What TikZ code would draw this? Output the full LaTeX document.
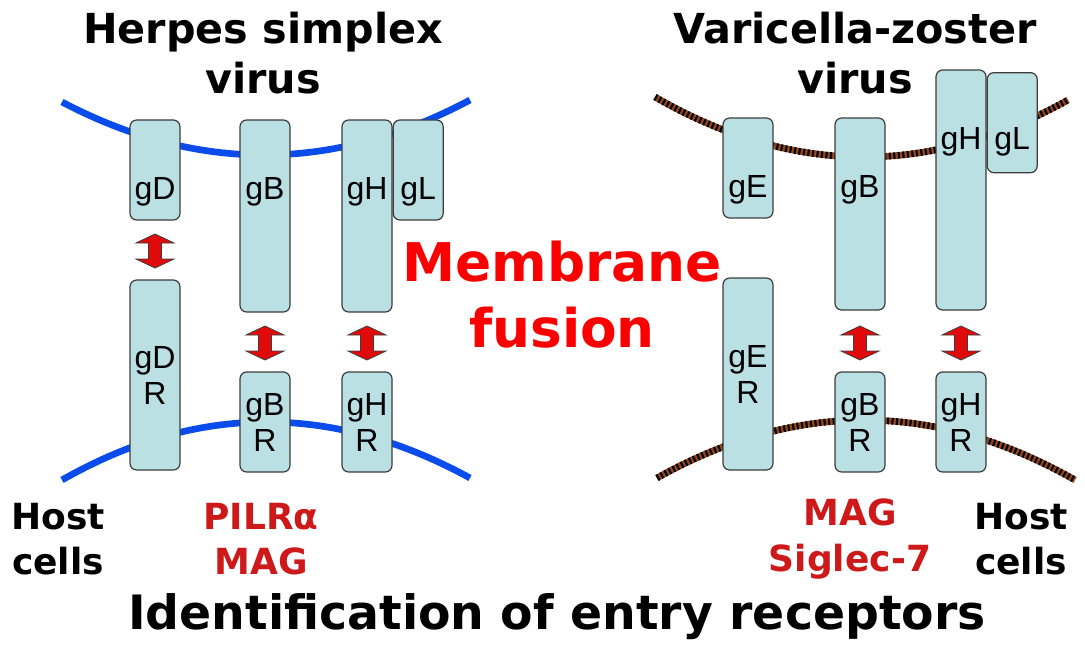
\documentclass[tikz,border=0pt]{standalone}
\usepackage{fontspec}
\setmainfont{DejaVu Sans}
\newfontfamily\protfont{Liberation Sans}
\usepackage{tikz}
\usetikzlibrary{positioning}

\definecolor{protfill}{RGB}{186,224,228}
\definecolor{protline}{RGB}{60,60,60}
\definecolor{hsvblue}{RGB}{10,75,235}
\definecolor{vzvbrown}{RGB}{150,70,30}
\definecolor{fusionred}{RGB}{250,0,0}
\definecolor{recred}{RGB}{205,25,25}
\definecolor{arrowred}{RGB}{225,10,10}

\begin{document}
\begin{tikzpicture}[
    x=0.75pt, y=-0.75pt,
    prot/.style={rectangle, draw=protline, fill=protfill, line width=0.9pt, rounded corners=5pt, minimum width=37.5pt, inner sep=0pt},
    plabel/.style={font=\protfont\fontsize{24}{27}\selectfont, align=center, inner sep=0pt},
    title/.style={font=\bfseries\fontsize{31}{37.5}\selectfont, align=center, inner sep=0pt},
    sidetext/.style={font=\bfseries\fontsize{27}{34}\selectfont, align=center, inner sep=0pt},
    hsvmem/.style={draw=hsvblue, line width=5pt},
    vzvmem/.style={draw=vzvbrown, line width=5pt},
    vzvstripe/.style={draw=black, line width=5pt, dash pattern=on 1.6pt off 1.8pt},
    updown/.pic={\draw[draw=protline, fill=arrowred, line width=0.6pt]
        (0,-17) -- (19,-8) -- (6.5,-8) -- (6.5,8) -- (19,8) -- (0,17)
        -- (-19,8) -- (-6.5,8) -- (-6.5,-8) -- (-19,-8) -- cycle;}
]
\useasboundingbox (0,0) rectangle (1085,649);

% membranes
\draw[hsvmem] (62,102) .. controls (197,173) and (333,173) .. (470,100);
\draw[hsvmem] (62,480) .. controls (197,403) and (333,403) .. (470,478);
\foreach \s in {vzvmem,vzvstripe}{
  \draw[\s] (655,97) .. controls (792,176) and (930,177) .. (1068,100);
  \draw[\s] (657,478) .. controls (796,400) and (936,401) .. (1075,480);
}

% herpes simplex virus
\node[prot, minimum height=75pt] (hsvgD) at (155,170) {};
\node[prot, minimum height=144pt] (hsvgB) at (265,216) {};
\node[prot, minimum height=144pt] (hsvgH) at (367,216) {};
\node[prot, minimum height=75pt, anchor=north west] (hsvgL) at (hsvgH.north east) {};
\node[prot, minimum height=142.5pt] (hsvgDR) at (155,375) {};
\node[prot, minimum height=75pt] (hsvgBR) at (265,422) {};
\node[prot, minimum height=75pt] (hsvgHR) at (367,422) {};

\node[plabel, anchor=base] (hsvgDt) at ([yshift=-60pt]hsvgD.north) {gD};
\node[plabel, anchor=base] (hsvgBt) at ([yshift=-60pt]hsvgB.north) {gB};
\node[plabel, anchor=base] (hsvgHt) at ([yshift=-60pt]hsvgH.north) {gH};
\node[plabel, anchor=base] (hsvgLt) at ([yshift=-60pt]hsvgL.north) {gL};
\node[plabel] (hsvgDRt) at (hsvgDR) {gD\\R};
\node[plabel] (hsvgBRt) at (hsvgBR) {gB\\R};
\node[plabel] (hsvgHRt) at (hsvgHR) {gH\\R};

\pic at (155,251) {updown};
\pic at (265,343) {updown};
\pic at (367,343) {updown};

% varicella-zoster virus
\node[prot, minimum height=75pt] (vzvgE) at (748,168) {};
\node[prot, minimum height=144pt] (vzvgB) at (860,214) {};
\node[prot, minimum height=180pt] (vzvgH) at (961,190) {};
\node[prot, minimum height=75pt, anchor=north west] (vzvgL) at ([yshift=-2pt]vzvgH.north east) {};
\node[prot, minimum height=144pt] (vzvgER) at (748,374) {};
\node[prot, minimum height=75pt] (vzvgBR) at (860,422) {};
\node[prot, minimum height=75pt] (vzvgHR) at (961,422) {};

\node[plabel, anchor=base] (vzvgEt) at ([yshift=-60pt]vzvgE.north) {gE};
\node[plabel, anchor=base] (vzvgBt) at ([yshift=-60pt]vzvgB.north) {gB};
\node[plabel, anchor=base] (vzvgHt) at ([yshift=-60pt]vzvgH.north) {gH};
\node[plabel, anchor=base] (vzvgLt) at ([yshift=-58pt]vzvgL.north) {gL};
\node[plabel] (vzvgERt) at (vzvgER) {gE\\R};
\node[plabel] (vzvgBRt) at (vzvgBR) {gB\\R};
\node[plabel] (vzvgHRt) at (vzvgHR) {gH\\R};

\pic at (860,343) {updown};
\pic at (961,343) {updown};

% texts
\node[title] (hsvtitle) at (263,53) {Herpes simplex\\virus};
\node[title] (vzvtitle) at (855,53) {Varicella-zoster\\virus};
\node[font=\bfseries\fontsize{40}{49.5}\selectfont, text=fusionred, align=center, inner sep=0pt] (fusion) at (562,295) {Membrane\\fusion};
\node[sidetext] (hostL) at (58,539) {Host\\cells};
\node[sidetext] (hostR) at (1021,539) {Host\\cells};
\node[sidetext, text=recred] (hsvrec) at (261,539) {PILRα\\MAG};
\node[sidetext, text=recred] (vzvrec) at (850,539) {MAG\\Siglec-7};
\node[font=\bfseries\fontsize{35.5}{40}\selectfont, inner sep=0pt] (entry) at (557,617) {Identification of entry receptors};
\end{tikzpicture}
\end{document}
